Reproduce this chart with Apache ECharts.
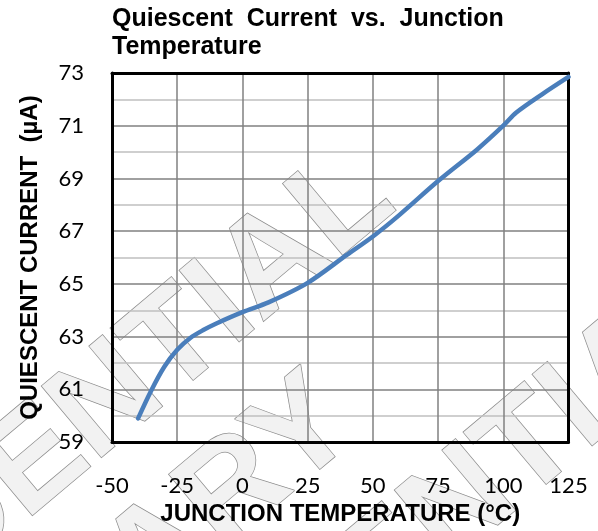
<!DOCTYPE html>
<html>
<head>
<meta charset="utf-8">
<script src="https://cdn.jsdelivr.net/npm/echarts@6/dist/echarts.min.js"></script>
<style>
  html, body { margin: 0; padding: 0; background: #fff; }
  #chart { width: 598px; height: 531px; }
</style>
</head>
<body>
<div id="chart"></div>
<script>
// junction temperature (°C) and quiescent current (µA)
var tempC = [-40, -35, -30, -25, -20, -15, -10, 0, 10, 25, 40, 50, 60, 75, 90, 100, 105, 115, 125];
var iqUA = [59.9, 60.95, 61.85, 62.5, 62.95, 63.25, 63.5, 63.93, 64.3, 65.04, 66.1, 66.8, 67.6, 68.9, 70.1, 71.0, 71.5, 72.2, 72.85];

var xTicks = [-50, -25, 0, 25, 50, 75, 100, 125];
var yMin = 59, yMax = 73;

var titleText = 'Quiescent  Current  vs.  Junction\nTemperature';
var xName = 'JUNCTION TEMPERATURE (°C)';
var yName = 'QUIESCENT CURRENT  (µA)';

// watermark lines (text, centre x, centre y)
var marks = [
    ['CONFIDENTIAL', -10, 502],
    ['PROPRIETARY', -30, 714],
    ['CONFIDENTIAL', 343, 606]
];

var chart = echarts.init(document.getElementById('chart'));

var points = tempC.map(function (t, i) { return [t, iqUA[i]]; });
var rot = 40 * Math.PI / 180;
var frame = { show: true, onZero: false, lineStyle: { color: '#000', width: 3 } };

var option = {
    backgroundColor: '#fff',
    animation: false,
    graphic: marks.map(function (m) {
        return {
            type: 'text',
            x: m[1],
            y: m[2],
            rotation: rot,
            z: -10,
            silent: true,
            style: {
                text: m[0],
                fontSize: 135,
                fontWeight: 'bold',
                fontFamily: 'Liberation Sans',
                fill: '#f2f2f2',
                stroke: '#8c8c8c',
                lineWidth: 1.5,
                align: 'center',
                verticalAlign: 'middle'
            }
        };
    }),
    title: {
        text: titleText,
        left: 112,
        top: 5,
        padding: 0,
        textStyle: {
            fontFamily: 'Liberation Sans',
            fontWeight: 'bold',
            fontSize: 25,
            lineHeight: 28,
            color: '#000'
        }
    },
    grid: {
        left: 112,
        right: 29.5,
        top: 73,
        bottom: 87.5
    },
    xAxis: [{
        type: 'value',
        min: xTicks[0],
        max: xTicks[xTicks.length - 1],
        interval: 25,
        name: xName,
        nameLocation: 'middle',
        nameGap: 55,
        nameTextStyle: {
            fontFamily: 'Liberation Sans',
            fontWeight: 'bold',
            fontSize: 24,
            color: '#000'
        },
        axisLine: frame,
        axisTick: { show: false },
        axisLabel: {
            margin: 33,
            fontFamily: 'Lato',
            fontSize: 22,
            color: '#000'
        },
        splitLine: {
            show: true,
            lineStyle: { color: '#808080', width: 1.5 }
        }
    }, {
        type: 'value',
        position: 'top',
        min: xTicks[0],
        max: xTicks[xTicks.length - 1],
        interval: 25,
        axisLine: frame,
        axisTick: { show: false },
        axisLabel: { show: false },
        splitLine: { show: false }
    }],
    yAxis: [{
        type: 'value',
        min: yMin,
        max: yMax,
        interval: 1,
        name: yName,
        nameLocation: 'middle',
        nameGap: 70,
        nameTextStyle: {
            fontFamily: 'Liberation Sans',
            fontWeight: 'bold',
            fontSize: 24,
            color: '#000'
        },
        axisLine: frame,
        axisTick: { show: false },
        axisLabel: {
            margin: 28,
            fontFamily: 'Lato',
            fontSize: 22,
            color: '#000',
            formatter: function (v) { return v % 2 !== 0 ? String(v) : ''; }
        },
        splitLine: {
            show: true,
            lineStyle: { color: ['#808080', '#bfbfbf'], width: 1.5 }
        }
    }, {
        type: 'value',
        position: 'right',
        min: yMin,
        max: yMax,
        interval: 1,
        axisLine: frame,
        axisTick: { show: false },
        axisLabel: { show: false },
        splitLine: { show: false }
    }],
    series: [{
        type: 'line',
        data: points,
        smooth: 0.3,
        showSymbol: false,
        symbol: 'none',
        z: 5,
        lineStyle: { color: '#4a7ebb', width: 4.5, cap: 'round' }
    }]
};

chart.setOption(option);
</script>
</body>
</html>
